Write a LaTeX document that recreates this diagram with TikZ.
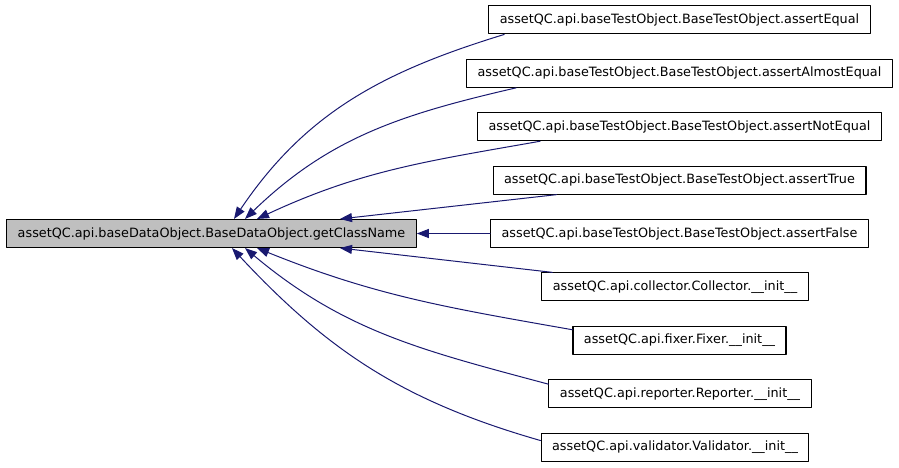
\documentclass[tikz,border=0pt]{standalone}
\usepackage{fontspec}
\setmainfont{DejaVu Sans}
\usetikzlibrary{arrows.meta}

\definecolor{edgeblue}{HTML}{191970}
\definecolor{focusgrey}{HTML}{BFBFBF}

\begin{document}
\begin{tikzpicture}[
  x=1pt,
  y=1pt,
  line cap=round,
  line join=round,
  func/.style={
    draw=black,
    line width=1.1pt,
    fill=white,
    minimum height=28pt,
    inner xsep=11pt,
    inner ysep=0pt,
    font=\fontsize{12.8}{14}\selectfont
  },
  focus/.style={
    func,
    fill=focusgrey
  },
  call/.style={
    -{Triangle[length=12pt,width=9pt]},
    line width=1pt,
    draw=edgeblue
  }
]

\useasboundingbox (0,0) rectangle (899,467);

% ------------------------------------------------
% Called function
% ------------------------------------------------
\node[focus] (getclass) at (211.5,233.5)
{assetQC.api.baseDataObject.BaseDataObject.getClassName};

% ------------------------------------------------
% Callers
% ------------------------------------------------
\node[func] (assertequal) at (679.5,447.1)
{assetQC.api.baseTestObject.BaseTestObject.assertEqual};

\node[func] (almostequal) at (679.5,393.7)
{assetQC.api.baseTestObject.BaseTestObject.assertAlmostEqual};

\node[func] (notequal) at (679.5,340.3)
{assetQC.api.baseTestObject.BaseTestObject.assertNotEqual};

\node[func] (asserttrue) at (679.5,286.9)
{assetQC.api.baseTestObject.BaseTestObject.assertTrue};

\node[func] (assertfalse) at (679.5,233.5)
{assetQC.api.baseTestObject.BaseTestObject.assertFalse};

\node[func] (collector) at (675,180.1)
{assetQC.api.collector.Collector.\_\_init\_\_};

\node[func] (fixer) at (679.5,126.7)
{assetQC.api.fixer.Fixer.\_\_init\_\_};

\node[func] (reporter) at (680,73.3)
{assetQC.api.reporter.Reporter.\_\_init\_\_};

\node[func] (validator) at (675,19.9)
{assetQC.api.validator.Validator.\_\_init\_\_};

% Upper callers enter the top of the called box.
\draw[call] ([xshift=16pt]assertequal.south west)
  to[out=197,in=56] ([xshift=22.5pt]getclass.north);
\draw[call] ([xshift=50pt]almostequal.south west)
  to[out=193,in=44] ([xshift=33.5pt]getclass.north);
\draw[call] ([xshift=63pt]notequal.south west)
  to[out=190,in=25] ([xshift=45.5pt]getclass.north);
\draw[call] ([xshift=64pt]asserttrue.south west)
  -- ([xshift=128.5pt]getclass.north);

\draw[call] (assertfalse) -- (getclass);

% Lower callers enter the bottom.
\draw[call] ([xshift=11pt]collector.north west)
  -- ([xshift=128.5pt]getclass.south);
\draw[call] ([yshift=-4pt]fixer.north west)
  to[out=170,in=-22] ([xshift=45.5pt]getclass.south);
\draw[call] ([yshift=-5pt]reporter.north west)
  to[out=165,in=-40] ([xshift=33.5pt]getclass.south);
\draw[call] ([yshift=-8pt]validator.north west)
  to[out=164,in=-47] ([xshift=20.5pt]getclass.south);

\end{tikzpicture}
\end{document}
